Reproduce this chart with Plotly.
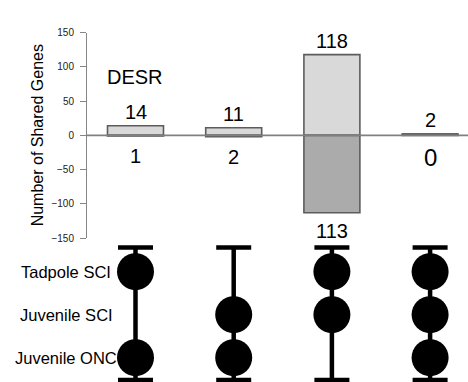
import plotly.graph_objects as go

# ---- data ----
columns = ["c1", "c2", "c3", "c4"]
up_values = [14, 11, 118, 2]
down_values = [1, 2, 113, 0]
set_names = ["Tadpole SCI", "Juvenile SCI", "Juvenile ONC"]
# membership per column, in order of set_names
membership = [
    [1, 0, 1],
    [0, 1, 1],
    [1, 1, 0],
    [1, 1, 1],
]
y_ticks = [-150, -100, -50, 0, 50, 100, 150]

W, H = 468, 382
FONT = "Liberation Sans, Arial, sans-serif"

xs = list(range(len(columns)))
n_rows = len(set_names)
row_pos = {name: n_rows - 1 - i for i, name in enumerate(set_names)}

fig = go.Figure()

# bars
fig.add_trace(go.Bar(x=xs, y=up_values, width=0.57,
                     marker=dict(color="#d9d9d9", line=dict(color="#5c5c5c", width=1.6)),
                     xaxis="x", yaxis="y", showlegend=False, hoverinfo="skip"))
fig.add_trace(go.Bar(x=xs, y=[-v for v in down_values], width=0.57,
                     marker=dict(color="#ababab", line=dict(color="#5c5c5c", width=1.6)),
                     xaxis="x", yaxis="y", showlegend=False, hoverinfo="skip"))

# matrix: vertical lines with caps
cap_top = n_rows - 1 + 0.56
cap_bot = -0.52
lx, ly = [], []
for x in xs:
    lx += [x, x, None]
    ly += [cap_bot, cap_top, None]
fig.add_trace(go.Scatter(x=lx, y=ly, mode="lines", line=dict(color="black", width=4.5),
                         xaxis="x", yaxis="y2", showlegend=False, hoverinfo="skip",
                         cliponaxis=False))
fig.add_trace(go.Scatter(x=xs + xs, y=[cap_top] * len(xs) + [cap_bot] * len(xs), mode="markers",
                         marker=dict(symbol="line-ew", size=25, color="black",
                                     line=dict(color="black", width=4.5)),
                         xaxis="x", yaxis="y2", showlegend=False, hoverinfo="skip",
                         cliponaxis=False))
dx, dy = [], []
for x, mem in zip(xs, membership):
    for name, m in zip(set_names, mem):
        if m:
            dx.append(x)
            dy.append(row_pos[name])
fig.add_trace(go.Scatter(x=dx, y=dy, mode="markers",
                         marker=dict(size=37, color="black"),
                         xaxis="x", yaxis="y2", showlegend=False, hoverinfo="skip",
                         cliponaxis=False))

annotations = []
for x, v in zip(xs, up_values):
    annotations.append(dict(x=x, y=v, xref="x", yref="y", text=str(v), showarrow=False,
                            yanchor="bottom", yshift=1, font=dict(size=20, color="black")))
for x, v in zip(xs, down_values):
    size = 24 if v == 0 else 20
    shift = -7 if v == 0 else (-5 if v > 50 else -7)
    annotations.append(dict(x=x, y=-v, xref="x", yref="y", text=str(v), showarrow=False,
                            yanchor="top", yshift=shift, font=dict(size=size, color="black")))
annotations.append(dict(x=105 / W, y=86, xref="paper", yref="y", text="DESR", showarrow=False,
                        xanchor="left", yanchor="middle", font=dict(size=20, color="black")))
annotations.append(dict(x=37 / W, y=0, xref="paper", yref="y", text="Number of Shared Genes",
                        showarrow=False, textangle=-90, xanchor="center", yanchor="middle",
                        font=dict(size=16, color="black")))
for name in set_names:
    annotations.append(dict(x=66 / W, y=row_pos[name], xref="paper", yref="y2", text=name,
                            showarrow=False, xanchor="center", yanchor="middle",
                            font=dict(size=16.5, color="black")))

x0 = 135.5
sp = 98.2
xaxis_left = 86
fig.update_layout(
    width=W, height=H,
    margin=dict(l=0, r=0, t=0, b=0, autoexpand=False),
    paper_bgcolor="white", plot_bgcolor="rgba(0,0,0,0)",
    font=dict(family=FONT),
    barmode="relative",
    xaxis=dict(domain=[xaxis_left / W, 1], range=[(xaxis_left - x0) / sp, (W - x0) / sp],
               showgrid=False, zeroline=False, showline=False, showticklabels=False,
               ticks="", anchor="y", fixedrange=True),
    yaxis=dict(domain=[1 - 238 / H, 1 - 32.7 / H], range=[-150, 150],
               tickvals=y_ticks, ticks="outside", ticklen=6, tickcolor="#868686",
               tickwidth=1, showline=True, linecolor="#868686", linewidth=1,
               showgrid=False, zeroline=False, tickfont=dict(size=10, color="#222222"),
               ticklabelstandoff=4, anchor="free", position=xaxis_left / W),
    yaxis2=dict(domain=[0, 1 - 240 / H], range=[(357.7 - 382) / 43, (357.7 - 240) / 43],
                showgrid=False, zeroline=False, showline=False, showticklabels=False,
                ticks="", anchor="x"),
    annotations=annotations,
    shapes=[dict(type="line", xref="paper", yref="y", x0=xaxis_left / W, x1=1, y0=0, y1=0,
                 line=dict(color="#808080", width=1.8), layer="above")],
)

fig.write_html("out.html", config={"displayModeBar": False},
               post_script="document.body.style.margin='0';document.body.style.overflow='hidden';")
